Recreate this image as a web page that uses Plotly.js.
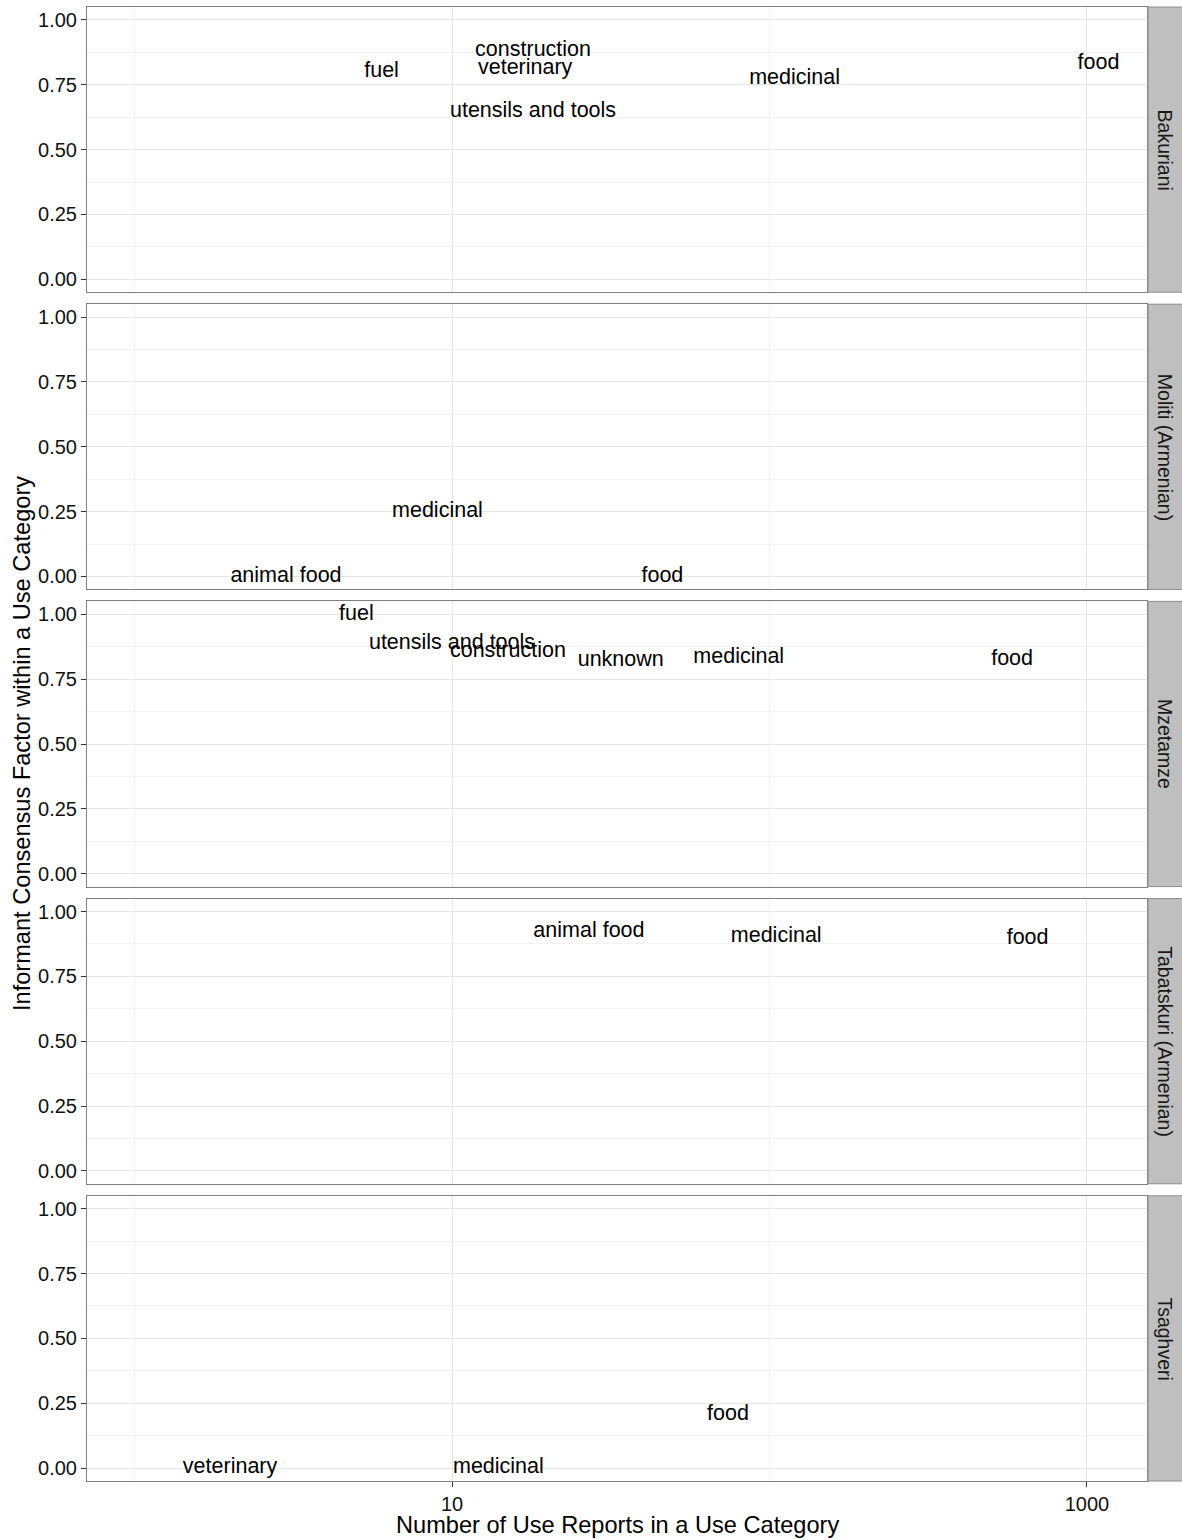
<!DOCTYPE html>
<html>
<head>
<meta charset="utf-8">
<script src="https://cdn.plot.ly/plotly-3.0.1.min.js"></script>
<style>html,body{margin:0;padding:0;background:#fff;}#chart{width:1182px;height:1540px;}</style>
</head>
<body>
<div id="chart"></div>
<script>
// ---- data ----
const villages = ['Bakuriani', 'Moliti (Armenian)', 'Mzetamze', 'Tabatskuri (Armenian)', 'Tsaghveri'];

const bakurianiCats    = ['fuel', 'construction', 'veterinary', 'utensils and tools', 'medicinal', 'food'];
const bakurianiReports = [6, 18, 17, 18, 120, 1087];
const bakurianiICF     = [0.80, 0.882, 0.8125, 0.647, 0.773, 0.832];

const molitiCats    = ['medicinal', 'animal food', 'food'];
const molitiReports = [9, 3, 46];
const molitiICF     = [0.25, 0.0, 0.0];

const mzetamzeCats    = ['fuel', 'utensils and tools', 'construction', 'unknown', 'medicinal', 'food'];
const mzetamzeReports = [5, 10, 15, 34, 80, 581];
const mzetamzeICF     = [1.0, 0.889, 0.857, 0.82, 0.835, 0.826];

const tabatskuriCats    = ['animal food', 'medicinal', 'food'];
const tabatskuriReports = [27, 105, 650];
const tabatskuriICF     = [0.923, 0.904, 0.896];

const tsaghveriCats    = ['veterinary', 'medicinal', 'food'];
const tsaghveriReports = [2, 14, 74];
const tsaghveriICF     = [0.0, 0.0, 0.205];

const xTickVals  = [10, 1000];
const xTickText  = ['10', '1000'];
const xMinorVals = [1, 100];
const yTickVals  = [0, 0.25, 0.5, 0.75, 1.0];

const xTitle = 'Number of Use Reports in a Use Category';
const yTitle = 'Informant Consensus Factor within a Use Category';

// ---- build ----
const panelData = [
  [bakurianiCats, bakurianiReports, bakurianiICF],
  [molitiCats, molitiReports, molitiICF],
  [mzetamzeCats, mzetamzeReports, mzetamzeICF],
  [tabatskuriCats, tabatskuriReports, tabatskuriICF],
  [tsaghveriCats, tsaghveriReports, tsaghveriICF]
];

const FONT = 'Liberation Sans, Arial, Helvetica, sans-serif';
const n = villages.length;
const gap = 12 / 1474;
const h = (1 - gap * (n - 1)) / n;

const traces = [];
const layout = {
  width: 1182, height: 1540,
  margin: {l: 87, r: 35, t: 7, b: 59},
  paper_bgcolor: '#ffffff',
  plot_bgcolor: '#ffffff',
  showlegend: false,
  font: {family: FONT, color: '#000'},
  shapes: [],
  annotations: []
};

const plotW = 1182 - 87 - 35;

for (let i = 0; i < n; i++) {
  const idx = i === 0 ? '' : String(i + 1);
  const xa = 'xaxis' + idx, ya = 'yaxis' + idx;
  const top = 1 - i * (h + gap);
  const bottom = top - h;
  const isBottom = i === n - 1;
  const [cats, reps, icf] = panelData[i];

  traces.push({
    type: 'scatter', mode: 'text',
    x: reps, y: icf, text: cats,
    textposition: 'middle center',
    textfont: {family: FONT, size: 21.5, color: '#000'},
    cliponaxis: false,
    hoverinfo: 'skip',
    xaxis: 'x' + idx, yaxis: 'y' + idx
  });

  layout[xa] = {
    type: 'log',
    range: [-0.1496, 3.189],
    domain: [0, 1],
    anchor: 'y' + idx,
    tickmode: 'array',
    tickvals: xTickVals,
    ticktext: xTickText,
    showticklabels: isBottom,
    ticks: isBottom ? 'outside' : '',
    ticklen: 5, tickwidth: 1, tickcolor: '#333',
    tickfont: {family: FONT, size: 20, color: '#111'},
    showgrid: true, gridcolor: '#e6e6e6', gridwidth: 1,
    minor: {tickmode: 'array', tickvals: xMinorVals, showgrid: true, gridcolor: '#f2f2f2', gridwidth: 1, ticks: ''},
    showline: true, linecolor: '#7f7f7f', linewidth: 1, mirror: true,
    zeroline: false, fixedrange: true
  };
  if (i > 0) layout[xa].matches = 'x';

  layout[ya] = {
    range: [-0.05, 1.05],
    domain: [Math.max(0, bottom), Math.min(1, top)],
    anchor: 'x' + idx,
    tickmode: 'array',
    tickvals: yTickVals,
    tickformat: '.2f',
    ticks: 'outside', ticklen: 5, tickwidth: 1, tickcolor: '#333',
    tickfont: {family: FONT, size: 20, color: '#111'},
    showgrid: true, gridcolor: '#e6e6e6', gridwidth: 1,
    minor: {tick0: 0, dtick: 0.125, showgrid: true, gridcolor: '#f2f2f2', gridwidth: 1, ticks: ''},
    showline: true, linecolor: '#7f7f7f', linewidth: 1, mirror: true,
    zeroline: false, fixedrange: true
  };

  // facet strip on the right
  layout.shapes.push({
    type: 'rect', xref: 'paper', yref: 'y' + idx + ' domain',
    x0: 1 + 1 / plotW, x1: 1 + 36 / plotW, y0: 0, y1: 1,
    fillcolor: '#bfbfbf', line: {color: '#8c8c8c', width: 1}, layer: 'above'
  });
  layout.annotations.push({
    xref: 'paper', yref: 'y' + idx + ' domain',
    x: 1 + 18 / plotW, y: 0.5, xanchor: 'center', yanchor: 'middle',
    text: villages[i], textangle: 90, showarrow: false,
    font: {family: FONT, size: 19.5, color: '#1a1a1a'}
  });
}

// axis titles
layout.annotations.push({
  xref: 'paper', yref: 'paper', x: 0.5, y: (1481 - 1525) / 1474,
  xanchor: 'center', yanchor: 'middle', showarrow: false,
  text: xTitle, font: {family: FONT, size: 23.6, color: '#000'}
});
layout.annotations.push({
  xref: 'paper', yref: 'paper', x: (22 - 87) / plotW, y: 0.5,
  xanchor: 'center', yanchor: 'middle', showarrow: false, textangle: -90,
  text: yTitle, font: {family: FONT, size: 23.6, color: '#000'}
});

Plotly.newPlot('chart', traces, layout, {staticPlot: true, displayModeBar: false});
</script>
</body>
</html>
